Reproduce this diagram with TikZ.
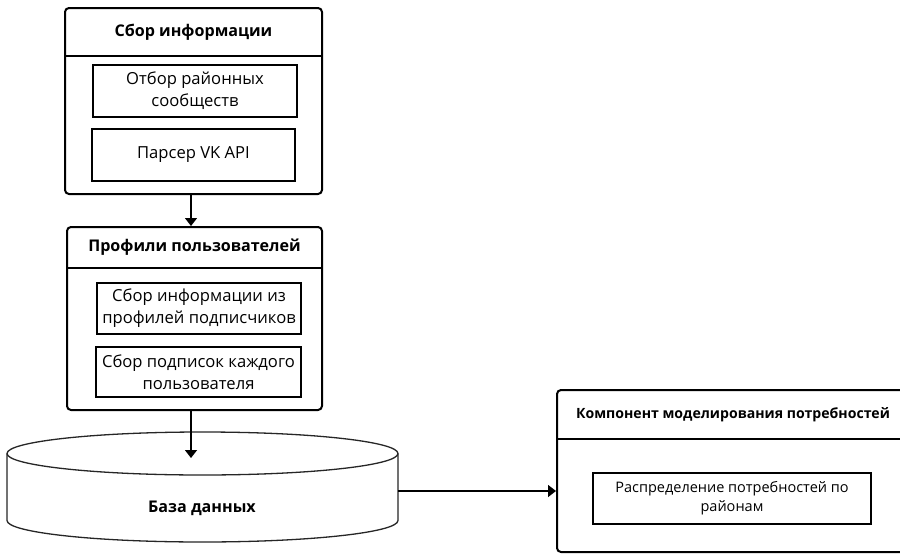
\documentclass[tikz,border=0pt]{standalone}
\usepackage{fontspec}
\setmainfont{Open Sans}
\usetikzlibrary{arrows.meta}
\tikzset{
  outerbox/.style={draw=black, line width=2pt, rounded corners=4pt, inner sep=0pt},
  innerbox/.style={draw=black, line width=2.2pt, inner sep=0pt, align=center,
    font=\fontsize{16.6}{22}\selectfont},
  innerboxs/.style={draw=black, line width=2.2pt, inner sep=0pt, align=center,
    font=\fontsize{14.5}{19}\selectfont},
  headtext/.style={font=\bfseries\fontsize{16.1}{18}\selectfont, inner sep=0pt},
  headtexts/.style={font=\bfseries\fontsize{14.1}{16}\selectfont, inner sep=0pt},
  sepline/.style={line width=1.8pt},
  flow/.style={line width=1.5pt, -{Triangle[length=8pt,width=12pt]}},
  cyl/.style={draw=black!85, line width=1.3pt, fill=white}
}
\begin{document}
\begin{tikzpicture}[x=1pt,y=-1pt]
\useasboundingbox (0,0) rectangle (900,554);
\clip (0,0) rectangle (900,554);
% Box 1
\node[outerbox, minimum width=257pt, minimum height=186pt] (b1) at (193.5,101) {};
\draw[sepline] (b1.west |- 0,56) -- (b1.east |- 0,56);
\node[headtext] (h1) at (193.5,32) {Сбор информации};
\node[innerbox, minimum width=204pt, minimum height=52pt] (i1a) at (195,91) {Отбор районных\\сообществ};
\node[innerbox, minimum width=203pt, minimum height=52pt] (i1b) at (193.5,155) {Парсер VK API};
% Box 2
\node[outerbox, minimum width=255pt, minimum height=183pt] (b2) at (194.5,318.5) {};
\draw[sepline] (b2.west |- 0,268) -- (b2.east |- 0,268);
\node[headtext] (h2) at (194.5,247.5) {Профили пользователей};
\node[innerbox, minimum width=204pt, minimum height=51pt] (i2a) at (199,308.5) {Сбор информации из\\профилей подписчиков};
\node[innerbox, minimum width=205pt, minimum height=50pt] (i2b) at (198.5,372) {Сбор подписок каждого\\пользователя};
% Cylinder
\draw[cyl] (7,453.5) -- (7,520.5) arc[start angle=180, end angle=360, x radius=195.5, y radius=-21.5] -- (398,453.5);
\draw[cyl] (202.5,453.5) ellipse[x radius=195.5, y radius=21.5];
\node[inner sep=0pt, minimum width=391pt, minimum height=110pt] (db) at (202.5,487) {};
\coordinate (dbtop) at (191,458);
\coordinate (dbright) at (398,491);
\node[headtext] (dbl) at (202,508) {База данных};
% Box 3
\node[outerbox, minimum width=353pt, minimum height=162pt] (b3) at (733.5,471) {};
\draw[sepline] (b3.west |- 0,439) -- (b3.east |- 0,439);
\node[headtexts] (h3) at (733,414.5) {Компонент моделирования потребностей};
\node[innerboxs, minimum width=278pt, minimum height=51pt] (i3) at (732,498.5) {Распределение потребностей по\\районам};
% Connectors
\draw[flow] (b1.south -| 191,0) -- (b2.north -| 191,0);
\draw[flow] (b2.south -| 191,0) -- (dbtop);
\draw[flow] (dbright) -- (dbright -| b3.west);
\end{tikzpicture}
\end{document}
